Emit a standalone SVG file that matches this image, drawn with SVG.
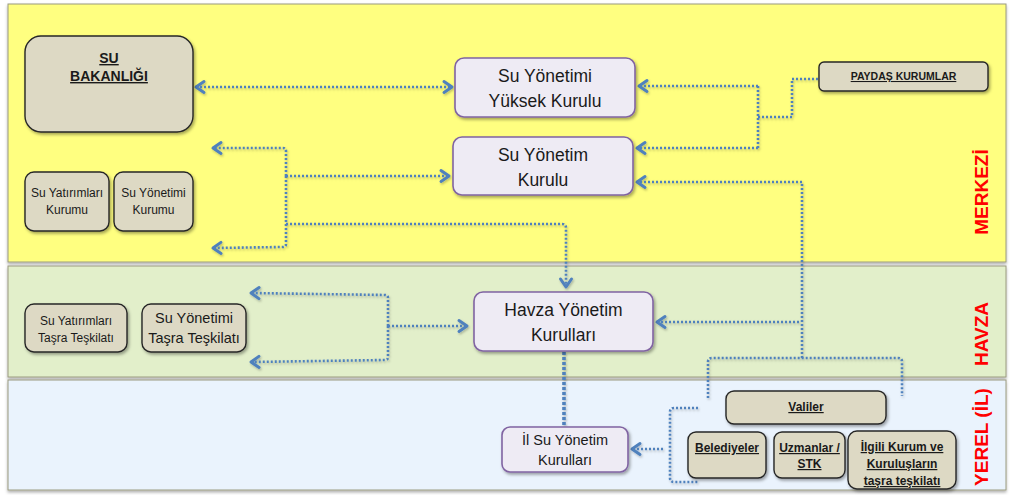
<svg xmlns="http://www.w3.org/2000/svg" width="1010" height="495" viewBox="0 0 1010 495">
  <defs>
    <filter id="boxShadow" x="-10%" y="-10%" width="130%" height="140%">
      <feDropShadow dx="1.5" dy="2" stdDeviation="1.4" flood-color="#000" flood-opacity="0.35"/>
    </filter>
    <filter id="bandShadow" x="-2%" y="-5%" width="104%" height="115%">
      <feDropShadow dx="0" dy="2" stdDeviation="1.5" flood-color="#000" flood-opacity="0.3"/>
    </filter>
    <filter id="lineShadow" x="-5%" y="-5%" width="110%" height="110%">
      <feDropShadow dx="1" dy="1.5" stdDeviation="1" flood-color="#000" flood-opacity="0.25"/>
    </filter>
    <marker id="chev" viewBox="-10 -8 12 16" markerWidth="12" markerHeight="16" refX="0" refY="0" markerUnits="userSpaceOnUse" orient="auto-start-reverse" overflow="visible">
      <path d="M -8 -5.5 L 0 0 L -8 5.5" fill="none" stroke="#4F81BD" stroke-width="3" stroke-linecap="round" stroke-linejoin="round" stroke-dasharray="none"/>
    </marker>
  </defs>
  <style>
    .band { stroke: #9a9a80; stroke-width: 1; filter: url(#bandShadow); }
    .tan { fill: #DDD9C4; stroke: #262626; stroke-width: 1.4; filter: url(#boxShadow); }
    .lav { fill: #EEEBF4; stroke: #8064A2; stroke-width: 1.6; filter: url(#boxShadow); }
    text { font-family: "Liberation Sans", Arial, sans-serif; fill: #1a1a1a; text-anchor: middle; }
    .big { font-size: 17.5px; }
    .mid { font-size: 14.5px; }
    .sm { font-size: 12px; }
    .bu { font-weight: bold; text-decoration: underline; }
    .zone { font-size: 19px; font-weight: bold; fill: #FF0000; }
    .dot { fill: none; stroke: #4F81BD; stroke-width: 2.6; stroke-dasharray: 2 2; stroke-linejoin: round; }
    .thick { stroke-width: 3.6; stroke-dasharray: 3 2; }
    .arr { marker-end: url(#chev); }
    .arr2 { marker-start: url(#chev); marker-end: url(#chev); }
  </style>

  <!-- level bands -->
  <g id="bands">
    <rect class="band" x="8" y="4" width="998" height="258" fill="#FFFF80"/>
    <rect class="band" x="8" y="266" width="998" height="111" fill="#E2EFCA"/>
    <rect class="band" x="8" y="380" width="998" height="110" fill="#EAF3FD"/>
    <text class="zone" transform="translate(988 192) rotate(-90)">MERKEZİ</text>
    <text class="zone" transform="translate(988 334) rotate(-90)">HAVZA</text>
    <text class="zone" transform="translate(988 437) rotate(-90)">YEREL (İL)</text>
  </g>

  <!-- connectors -->
  <g id="connectors" filter="url(#lineShadow)">
    <path class="dot arr2" d="M 196 87 L 452 87"/>
    <!-- stakeholders -->
    <path class="dot" d="M 818 79 L 792 79 L 792 117 L 758 117"/>
    <path class="dot" d="M 758 86 L 758 148"/>
    <path class="dot arr" d="M 758 86 L 639 86"/>
    <path class="dot arr" d="M 758 148 L 637 148"/>
    <!-- local institutions up to central / basin -->
    <path class="dot arr" d="M 802 358 L 802 182 L 637 182"/>
    <path class="dot arr" d="M 799 322 L 657 322"/>
    <path class="dot" d="M 708 398 L 708 362 Q 708 358 712 358 L 898 358 Q 902 358 902 362 L 902 396"/>
    <!-- central bracket -->
    <path class="dot arr" d="M 286 176 L 286 151 Q 286 148 283 148 L 213 148"/>
    <path class="dot arr" d="M 286 176 L 286 244 Q 286 247 283 247 L 213 248"/>
    <path class="dot arr" d="M 286 176 L 449 176"/>
    <path class="dot arr" d="M 286 224 L 562 224 Q 566 224 566 228 L 566 287"/>
    <!-- basin bracket -->
    <path class="dot arr" d="M 388 326 L 388 298 Q 388 295 385 295 L 251 293"/>
    <path class="dot arr" d="M 388 326 L 388 357 Q 388 360 385 360 L 251 362"/>
    <path class="dot arr" d="M 388 326 L 467 326"/>
    <!-- basin to province -->
    <path class="dot thick" d="M 564 352 L 564 427"/>
    <!-- province bracket -->
    <path class="dot" d="M 698 408 L 674 408 Q 670 408 670 412 L 670 478 Q 670 482 674 482 L 698 482"/>
    <path class="dot arr" d="M 663 449 L 632 449"/>
  </g>

  <!-- central level -->
  <g id="su-bakanligi">
    <rect class="tan" x="25" y="36" width="168" height="96" rx="16"/>
    <text class="bu" x="109" y="63" font-size="14">SU</text>
    <text class="bu" x="109" y="81" font-size="14">BAKANLIĞI</text>
  </g>
  <g id="su-yatirimlari-kurumu">
    <rect class="tan" x="25" y="172" width="84" height="59" rx="9"/>
    <text class="sm" x="67" y="197">Su Yatırımları</text>
    <text class="sm" x="67" y="214">Kurumu</text>
  </g>
  <g id="su-yonetimi-kurumu">
    <rect class="tan" x="114" y="172" width="79" height="59" rx="9"/>
    <text class="sm" x="153.5" y="197">Su Yönetimi</text>
    <text class="sm" x="153.5" y="214">Kurumu</text>
  </g>
  <g id="yuksek-kurul">
    <rect class="lav" x="455" y="58" width="180" height="59" rx="9"/>
    <text class="big" x="545" y="82">Su Yönetimi</text>
    <text class="big" x="545" y="107">Yüksek Kurulu</text>
  </g>
  <g id="yonetim-kurulu">
    <rect class="lav" x="453" y="137" width="180" height="58" rx="9"/>
    <text class="big" x="543" y="161">Su Yönetim</text>
    <text class="big" x="543" y="186">Kurulu</text>
  </g>
  <g id="paydas-kurumlar">
    <rect class="tan" x="819" y="62" width="169" height="29" rx="5"/>
    <text class="bu" x="903.5" y="80" font-size="10.5">PAYDAŞ KURUMLAR</text>
  </g>

  <!-- basin level -->
  <g id="su-yatirimlari-tasra">
    <rect class="tan" x="25" y="304" width="102" height="48" rx="9"/>
    <text class="sm" x="76" y="325">Su Yatırımları</text>
    <text class="sm" x="76" y="342">Taşra Teşkilatı</text>
  </g>
  <g id="su-yonetimi-tasra">
    <rect class="tan" x="142" y="304" width="104" height="48" rx="9"/>
    <text class="mid" x="194" y="323">Su Yönetimi</text>
    <text class="mid" x="194" y="343">Taşra Teşkilatı</text>
  </g>
  <g id="havza-kurullari">
    <rect class="lav" x="474" y="292" width="179" height="59" rx="9"/>
    <text class="big" x="563.5" y="316">Havza Yönetim</text>
    <text class="big" x="563.5" y="341">Kurulları</text>
  </g>

  <!-- provincial level -->
  <g id="il-kurullari">
    <rect class="lav" x="502" y="427" width="126" height="45" rx="8"/>
    <text class="mid" x="565" y="445">İl Su Yönetim</text>
    <text class="mid" x="565" y="465">Kurulları</text>
  </g>
  <g id="valiler">
    <rect class="tan" x="726" y="391" width="160" height="33" rx="8"/>
    <text class="bu" x="806" y="411" font-size="12">Valiler</text>
  </g>
  <g id="belediyeler">
    <rect class="tan" x="688" y="432" width="78" height="46" rx="8"/>
    <text class="bu" x="727" y="452" font-size="12">Belediyeler</text>
  </g>
  <g id="uzmanlar-stk">
    <rect class="tan" x="774" y="432" width="71" height="46" rx="8"/>
    <text class="bu" x="809.5" y="452" font-size="12">Uzmanlar /</text>
    <text class="bu" x="809.5" y="468" font-size="12">STK</text>
  </g>
  <g id="ilgili-kurumlar">
    <rect class="tan" x="848" y="431" width="108" height="58" rx="9"/>
    <text class="bu" x="902" y="451" font-size="12">İlgili Kurum ve</text>
    <text class="bu" x="902" y="468" font-size="12">Kuruluşların</text>
    <text class="bu" x="902" y="485" font-size="12">taşra teşkilatı</text>
  </g>
</svg>
